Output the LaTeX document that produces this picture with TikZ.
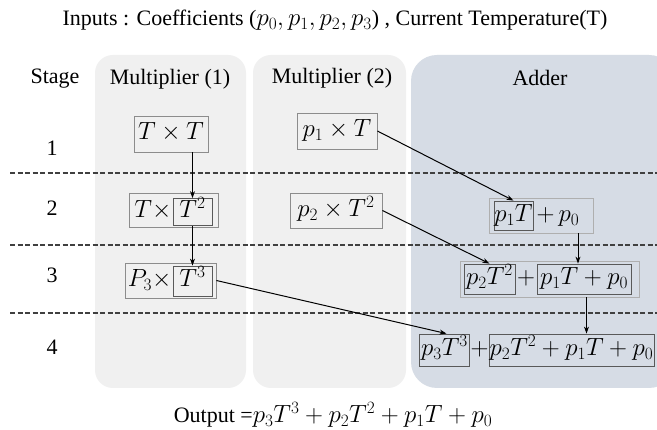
\documentclass[tikz,border=0pt]{standalone}
\usepackage{fontspec}
\setmainfont{Liberation Serif}[Ligatures=TeX]
\newfontfamily\timesf{Liberation Serif}
\usetikzlibrary{arrows.meta,calc}
\definecolor{panelgray}{HTML}{F0F0F0}
\definecolor{adderblue}{HTML}{D6DCE5}
\definecolor{boxline}{HTML}{8C8C8C}
\definecolor{innerline}{HTML}{595959}
\definecolor{dashcol}{HTML}{404040}
\newcommand{\lrgmath}[1]{{\fontsize{24}{26}\selectfont$#1$}}
\begin{document}
\begin{tikzpicture}[x=1pt,y=-1pt,
  every node/.style={font=\timesf\fontsize{22}{26}\selectfont, inner sep=0pt},
  panel/.style={fill=panelgray, rounded corners=18pt, draw=none},
  adpanel/.style={fill=adderblue, rounded corners=26pt, draw=none},
  obox/.style={draw=boxline, line width=0.8pt},
  ibox/.style={draw=innerline, line width=0.8pt},
  mtext/.style={font=\timesf\fontsize{24}{28}\selectfont, text height=16pt, text depth=4pt},
  stagesep/.style={dashcol, line width=1.4pt, dash pattern=on 5pt off 2.5pt},
  arr/.style={line width=1pt, -{Stealth[length=7pt,width=5pt]}}]
\useasboundingbox (0,0) rectangle (657,430);
\clip (0,0) rectangle (657,430);
\fill[white] (0,0) rectangle (657,430);
% panels
\path[panel] (95,55) rectangle (246,388);
\path[panel] (253,55) rectangle (406,388);
\path[adpanel] (411,55) rectangle (675,388);
% title / output
\node (title) at (335,20) {Inputs : Coefficients (\lrgmath{p_0,p_1,p_2,p_3}) , Current Temperature(T)};
\node (output) at (333,415) {Output =\lrgmath{p_3T^3+p_2T^2+p_1T+p_0}};
% headers
\node (stage) at (55,79) {Stage};
\node (h1) at (170,79) {Multiplier (1)};
\node (h2) at (332,78) {Multiplier (2)};
\node (h3) at (540,78) {Adder};
\node (s1) at (52,148) {1};
\node (s2) at (52,208) {2};
\node (s3) at (52,275) {3};
\node (s4) at (52,347) {4};
% dashed stage separators
\coordinate (d1a) at (10,173); \coordinate (d1b) at (657,173);
\coordinate (d2a) at (10,245); \coordinate (d2b) at (657,245);
\coordinate (d3a) at (10,313); \coordinate (d3b) at (657,313);
\draw[stagesep] (d1a) -- (d1b);
\draw[stagesep] (d2a) -- (d2b);
\draw[stagesep] (d3a) -- (d3b);
% Multiplier (1)
\node[obox, minimum width=74pt, minimum height=36pt, mtext] (tt) at (171,134) {$T\times T$};
\node[obox, minimum width=89pt, minimum height=34pt] (m2o) at (173.5,210) {};
\node[ibox, minimum width=39pt, minimum height=27pt, mtext] (m2i) at (192.5,212) {$T^2$};
\node[mtext, anchor=east] (m2t) at ([xshift=-1pt]m2i.west) {$T\times$};
\node[obox, minimum width=91pt, minimum height=35pt] (m3o) at (170.5,280.5) {};
\node[ibox, minimum width=39pt, minimum height=30pt, mtext] (m3i) at (192.5,281) {$T^3$};
\node[mtext, anchor=east] (m3t) at ([xshift=-1pt]m3i.west) {$P_3\times$};
% Multiplier (2)
\node[obox, minimum width=80pt, minimum height=36pt, mtext] (p1t) at (337,131) {$p_1\times T$};
\node[obox, minimum width=92pt, minimum height=35pt, mtext] (p2t) at (336,210.5) {$p_2\times T^2$};
% Adder stage 2
\node[draw=boxline!70, line width=0.8pt, minimum width=104pt, minimum height=35pt] (a2o) at (541,215.5) {};
\node[ibox, minimum width=39pt, minimum height=29pt, mtext] (a2i) at (513.5,215.5) {$p_1T$};
\node[mtext, anchor=west] (a2t) at ([xshift=3pt]a2i.east) {$+\,p_0$};
% Adder stage 3
\node[draw=boxline!70, line width=0.8pt, minimum width=179pt, minimum height=36pt] (a3o) at (549.5,279) {};
\node[ibox, minimum width=51pt, minimum height=30pt, mtext] (a3a) at (489.5,279) {$p_2T^2$};
\node[ibox, minimum width=94pt, minimum height=30pt, mtext] (a3b) at (584,279) {$p_1T+p_0$};
\node[mtext] (a3p) at (526,279) {$+$};
% Adder stage 4
\node[ibox, minimum width=50pt, minimum height=32pt, mtext] (a4a) at (444.5,350) {$p_3T^3$};
\node[ibox, minimum width=165pt, minimum height=32pt, mtext] (a4b) at (571.5,350) {$p_2T^2+p_1T+p_0$};
\node[mtext] (a4p) at (479.5,350) {$+$};
% connectors
\draw[arr] (m2i |- tt.south) -- (m2i.north);
\draw[arr] (m2i.south) -- (m2i.south |- m3i.north);
\draw[arr] (p1t.east) -- (a2i.north);
\draw[arr] (p2t.east) -- (a3a.north);
\draw[arr] (m3o.east) -- ([xshift=2pt]a4a.north);
\coordinate (c2) at ([xshift=37pt]a2o.south);
\coordinate (c3) at ([xshift=37pt]a3o.south);
\draw[arr] (c2) -- (c2 |- a3b.north);
\draw[arr] (c3) -- (c3 |- a4b.north);
\end{tikzpicture}
\end{document}
